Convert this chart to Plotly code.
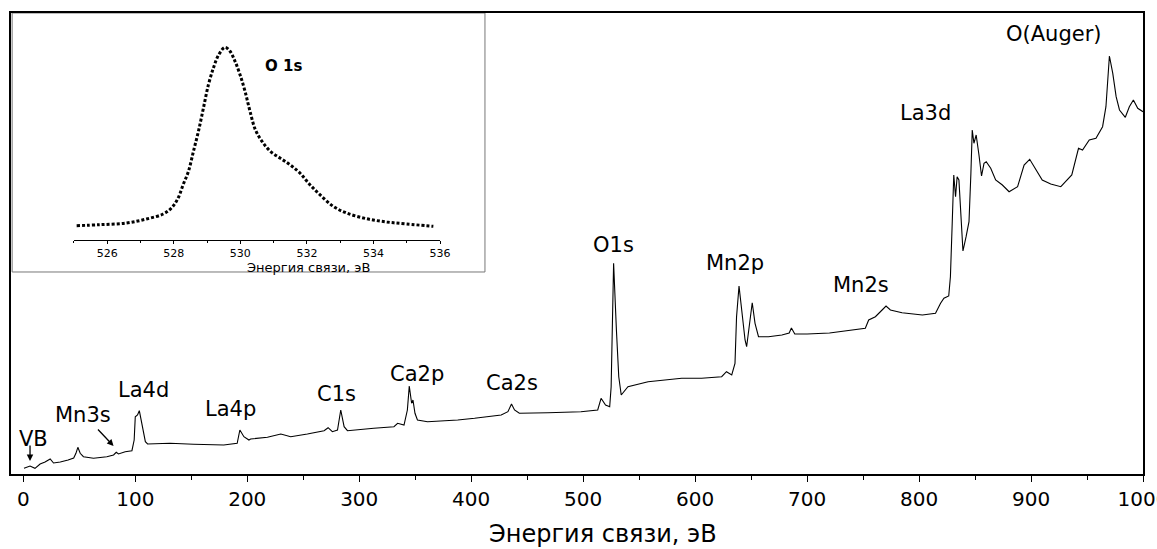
import plotly.graph_objects as go

# Survey spectrum (binding energy, eV) vs intensity (a.u.)
survey_energy = [0.6, 6, 10.4, 15, 19.4, 24, 27, 33, 40, 45, 47, 48.7, 50.8, 53.7, 62.7, 74.6, 80.6, 83, 85, 91,
                 97, 99, 100, 102, 103.6, 106, 109, 111, 131, 152, 179, 191, 193.4, 197, 201.5, 203, 218, 230,
                 238.8, 253.7, 268.6, 272.2, 276, 280.6, 283.5, 286.5, 289.5, 313, 331, 334.3, 340, 343, 344.7,
                 346.8, 348, 349.8, 352, 361, 388, 403, 426.8, 432.8, 436, 438.7, 443, 468.5, 498, 513, 516, 520,
                 523.7, 525, 527.2, 529.7, 531.8, 534, 540, 558, 573, 588, 605.8, 623.7, 628, 632.7, 635.6, 637,
                 639.2, 641.6, 644.6, 646, 649, 651, 653.5, 656.6, 665.5, 677.5, 684, 686, 689, 700, 720, 743, 752,
                 755, 761, 767, 770.5, 774.4, 784.8, 803, 814.7, 819.2, 822.2, 826.5, 828, 829.6, 831, 832.6, 834,
                 835.6, 837.8, 839.2, 842, 844.6, 846.3, 847.5, 849, 851, 853.5, 855.8, 858, 860, 864, 868.4,
                 874.4, 880.4, 888, 893.8, 898.8, 902.7, 910, 917.6, 926.6, 936.4, 942.4, 946, 952, 958, 963.9,
                 966.9, 970, 973, 976, 979, 984.2, 987.8, 991.4, 995.3, 1000]
survey_intensity = [5.7, 8, 5.7, 10, 12, 15, 11, 12, 14, 16, 20.7, 26.7, 20.7, 17.3, 15.7, 17.3, 19, 21.7, 20, 22.3,
                    23.3, 34, 57.3, 59, 63.3, 50.7, 32.3, 30, 30.7, 29.7, 29, 30.7, 44, 37.3, 34, 35, 36.7, 40,
                    37.3, 40, 43.3, 46.3, 42.3, 44, 64, 47.3, 43.3, 45.7, 47.3, 50.7, 49, 64, 88,
                    70.7, 74, 60.7, 54, 52.3, 54, 55.7, 59, 62.3, 70, 64, 60.7, 61.3, 62.3, 64, 75.7, 69,
                    67.3, 87.3, 210.7, 144, 97.3, 79, 87.3, 92.3, 94, 95.7, 95.7, 97.3, 102.3, 99, 110.7, 157.3,
                    188, 164, 134, 127.3, 150.7, 171.3, 150.7, 137.3, 137.3, 139, 141, 146, 140, 140, 141, 144, 145.7,
                    154, 157.3, 164, 168, 164, 161.3, 159, 160.7, 170.7, 175.7, 178, 197.3, 250.7, 299, 277.3, 297.3,
                    294, 244, 223, 237.3, 252.3, 300.7, 344, 330.7, 339, 319, 298, 310.7, 312.3, 305.7, 294,
                    289, 282.3, 287.3, 309, 314.7, 307.3, 294, 290, 287.3, 299, 325.7, 324, 334, 335.7, 347.3,
                    367.3, 418, 400.7, 377.3, 364, 356.7, 367.3, 374, 365.7, 362.3]

# Inset: O 1s high-resolution spectrum
o1s_energy = [525.08, 525.78, 526.58, 527.18, 527.68, 527.93, 528.13, 528.28, 528.44, 528.59, 528.74, 528.89,
              529.04, 529.19, 529.34, 529.54, 529.69, 529.84, 529.99, 530.14, 530.29, 530.45, 530.65, 530.9,
              531.19, 531.49, 531.79, 532.09, 532.39, 532.79, 533.19, 533.79, 534.4, 535.0, 535.8]
o1s_intensity = [14.3, 15.3, 17, 21, 26, 32, 42, 55.3, 68.7, 88.7, 108.7, 132, 155.3, 172, 184.7, 192.7, 188.7,
                 178.7, 165.3, 148.7, 128.7, 110.3, 98.7, 88.7, 82, 75.3, 67, 55.3, 45.3, 33.7, 27, 21.3, 18, 16,
                 13.7]

peak_labels = ["VB", "Mn3s", "La4d", "La4p", "C1s", "Ca2p", "Ca2s", "O1s", "Mn2p", "Mn2s", "La3d", "O(Auger)"]
label_x = [8.7, 53, 107, 185, 280, 351.5, 436.6, 527, 636, 748, 805.5, 920]
label_y = [35, 59, 84, 65, 80, 100, 91, 229, 211, 189, 361, 440]

main_ticks = [0, 100, 200, 300, 400, 500, 600, 700, 800, 900, 1000]
inset_ticks = [526, 528, 530, 532, 534, 536]

FONT = "DejaVu Sans"

fig = go.Figure()
fig.add_trace(go.Scatter(x=survey_energy, y=survey_intensity, mode="lines",
                         line=dict(color="black", width=1.1), xaxis="x", yaxis="y", showlegend=False))
fig.add_trace(go.Scatter(x=o1s_energy, y=o1s_intensity, mode="lines",
                         line=dict(color="black", width=3, dash="3px,2px", shape="spline"),
                         xaxis="x2", yaxis="y2", showlegend=False))

annotations = []
for t, x, y in zip(peak_labels, label_x, label_y):
    annotations.append(dict(x=x, y=y, xref="x", yref="y", text=t, showarrow=False,
                            font=dict(family=FONT, size=21, color="black")))
# arrows
annotations.append(dict(x=6, y=13, xref="x", yref="y", text="", showarrow=True, ax=0, ay=-17,
                        arrowhead=2, arrowsize=1, arrowwidth=1.3, arrowcolor="black"))
annotations.append(dict(x=80.6, y=28, xref="x", yref="y", text="", showarrow=True, ax=-17, ay=-18,
                        arrowhead=2, arrowsize=1, arrowwidth=1.3, arrowcolor="black"))
# main axis title
annotations.append(dict(x=0.523, y=-0.1302, xref="paper", yref="paper", text="Энергия связи, эВ",
                        showarrow=False, yanchor="middle", font=dict(family=FONT, size=24, color="black")))
# inset texts
annotations.append(dict(x=531.3, y=174, xref="x2", yref="y2", text="<b>O 1s</b>", showarrow=False,
                        font=dict(family=FONT, size=15, color="black")))
annotations.append(dict(x=0.207, y=0.4475, xref="paper", yref="paper", text="Энергия связи, эВ",
                        showarrow=False, yanchor="middle", font=dict(family=FONT, size=13, color="black")))

fig.update_layout(
    width=1157, height=549,
    margin=dict(l=11, r=14, t=13, b=75, autoexpand=False),
    paper_bgcolor="white", plot_bgcolor="white",
    xaxis=dict(range=[-11, 1000], tickmode="array", tickvals=main_ticks, ticks="outside", ticklen=6,
               tickwidth=1.3, tickcolor="black", showline=True, linecolor="black", linewidth=1.5, mirror=True,
               showgrid=False, zeroline=False, ticklabeloverflow="allow", automargin=False,
               tickfont=dict(family=FONT, size=20, color="black"),
               minor=dict(dtick=50, tick0=0, ticks="outside", ticklen=4, tickcolor="black", showgrid=False)),
    yaxis=dict(range=[0, 461], showticklabels=False, ticks="", showline=True, linecolor="black",
               linewidth=1.5, mirror=True, showgrid=False, zeroline=False, automargin=False),
    xaxis2=dict(domain=[0.05565, 0.37898], anchor="y2", range=[525, 536], tickmode="array",
                tickvals=inset_ticks, ticks="outside", ticklen=3, tickcolor="black", tickwidth=1,
                showline=True, linecolor="black", linewidth=1, showgrid=False, zeroline=False,
                tickfont=dict(family=FONT, size=11, color="black"),
                minor=dict(dtick=1, tick0=525, ticks="outside", ticklen=2, tickcolor="black", showgrid=False)),
    yaxis2=dict(domain=[0.5076, 0.96312], anchor="x2", range=[0, 210], visible=False),
    shapes=[dict(type="rect", xref="paper", yref="paper", x0=0.001, x1=0.4187, y0=0.4382, y1=1.0,
                 line=dict(color="#777777", width=1), fillcolor="white", layer="below")],
    annotations=annotations,
)

fig.write_html("out.html")
